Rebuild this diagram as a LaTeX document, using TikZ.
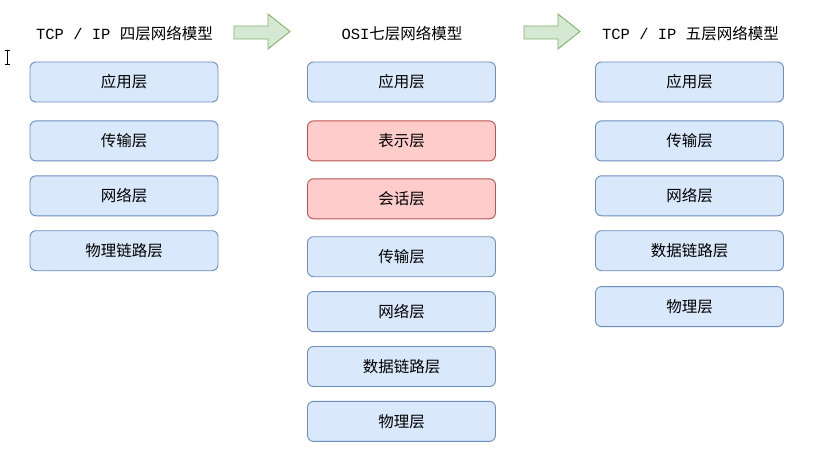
\documentclass[tikz,border=0pt]{standalone}
\usepackage{fontspec}
\setmonofont{Liberation Mono}
\newfontfamily\cjk{Noto Sans CJK SC}
\usetikzlibrary{positioning}

\definecolor{bluefill}{HTML}{DAE8FC}
\definecolor{blueline}{HTML}{6C8EBF}
\definecolor{redfill}{HTML}{FFCCCC}
\definecolor{redline}{HTML}{B85450}
\definecolor{greenfill}{HTML}{D5E8D4}
\definecolor{greenline}{HTML}{82B366}

\tikzset{
	layer/.style={draw=blueline, fill=bluefill, rounded corners=6pt, line width=0.9pt,
		minimum width=188pt, minimum height=40pt, font=\cjk\fontsize{15.5}{17}\selectfont},
	newlayer/.style={layer, draw=redline, fill=redfill},
	title/.style={font=\fontsize{15.5}{17}\selectfont},
	bigarrow/.style={draw=greenline, fill=greenfill, line width=0.9pt}
}

\begin{document}
\begin{tikzpicture}[x=1pt, y=-1pt]

	\useasboundingbox (0,0) rectangle (825,452);

	% titles
	\node [title] (tcp4)  at (124.5,34) {\texttt{TCP / IP }{\cjk 四层网络模型}};
	\node [title] (osi)   at (402,34)   {\texttt{OSI}{\cjk 七层网络模型}};
	\node [title] (tcp5)  at (690.5,34) {\texttt{TCP / IP }{\cjk 五层网络模型}};

	% arrows between titles
	\draw [bigarrow] (234,26) -- (268,26) -- (268,14) -- (290,31.5) -- (268,49) -- (268,39) -- (234,39) -- cycle;
	\draw [bigarrow] (524,26) -- (558,26) -- (558,14) -- (580,31.5) -- (558,49) -- (558,39) -- (524,39) -- cycle;

	% TCP/IP four layers
	\node [layer] (app4) at (124,82) {应用层};
	\node [layer, below=18pt of app4] (trans4) {传输层};
	\node [layer, below=14pt of trans4] (net4) {网络层};
	\node [layer, below=14pt of net4] (link4) {物理链路层};

	% OSI seven layers
	\node [layer] (app7) at (401.5,82) {应用层};
	\node [newlayer, below=18pt of app7] (pres7) {表示层};
	\node [newlayer, below=17pt of pres7] (sess7) {会话层};
	\node [layer, below=17pt of sess7] (trans7) {传输层};
	\node [layer, below=14pt of trans7] (net7) {网络层};
	\node [layer, below=14pt of net7] (link7) {数据链路层};
	\node [layer, below=14pt of link7] (phys7) {物理层};

	% TCP/IP five layers
	\node [layer] (app5) at (689.5,82) {应用层};
	\node [layer, below=18pt of app5] (trans5) {传输层};
	\node [layer, below=14pt of trans5] (net5) {网络层};
	\node [layer, below=14pt of net5] (link5) {数据链路层};
	\node [layer, below=15pt of link5] (phys5) {物理层};

	% text cursor
	\draw [line width=0.7pt] (7,50.5) -- (7,64.5);
	\draw [line width=0.7pt] (4.5,50.5) -- (9.5,50.5);
	\draw [line width=0.7pt] (4.5,64.5) -- (9.5,64.5);

\end{tikzpicture}
\end{document}
